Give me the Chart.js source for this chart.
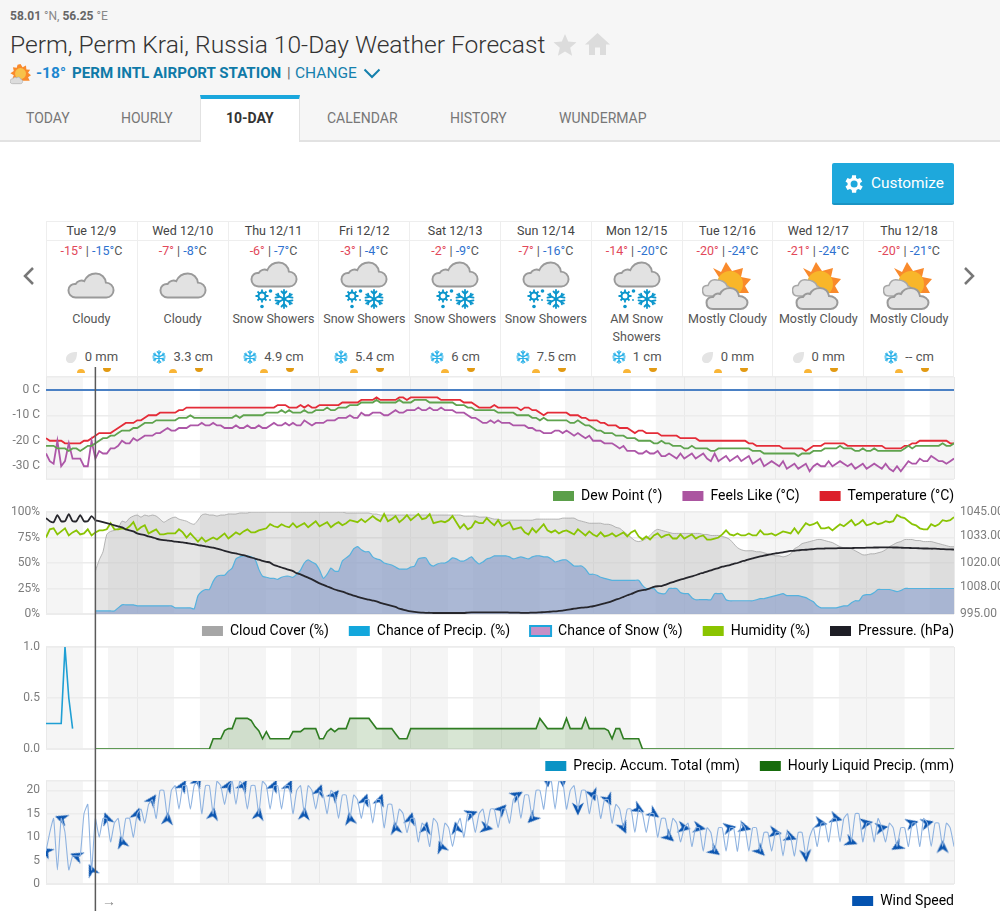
<!DOCTYPE html>
<html lang="en">
<head>
<meta charset="UTF-8">
<title>Perm, Perm Krai, Russia 10-Day Weather Forecast</title>
<script src="https://cdn.jsdelivr.net/npm/chart.js"></script>
<style>
    html, body { margin: 0; padding: 0; background: #fff; }
    #page { position: relative; width: 1000px; height: 911px; overflow: hidden; font-family: Roboto, sans-serif; color: #555; }
    #page > * { position: absolute; }
    #head { left: 0; top: 0; width: 1000px; height: 140px; background: #f6f6f6; border-bottom: 2px solid #e2e2e2; }
    #coords { left: 10px; top: 9px; font-size: 12px; color: #888; white-space: nowrap; }
    #coords b { color: #666; font-weight: 700; }
    h1 { left: 10px; top: 29px; margin: 0; font-size: 24.6px; line-height: 32px; font-weight: 300; color: #333; white-space: nowrap; }
    #now { left: 36px; top: 63px; font-size: 15.500px; line-height: 20px; color: #1d87d0; font-weight: 700; white-space: nowrap; }
    #station { left: 72px; top: 63px; font-size: 15.100px; line-height: 20px; font-weight: 700; color: #0f7aa8; white-space: nowrap; }
    #sep { left: 287px; top: 63px; font-size: 15px; line-height: 20px; color: #666; }
    #change { left: 295px; top: 63px; font-size: 15.500px; line-height: 20px; color: #1580ad; white-space: nowrap; }
    .tab { top: 110px; font-size: 14px; line-height: 16px; color: #777; white-space: nowrap; }
    #activeTab { left: 200px; top: 95px; width: 100px; height: 47px; background: #fff; border-top: 4px solid #1aa7dd; border-left: 1px solid #e2e2e2; border-right: 1px solid #e2e2e2; box-sizing: border-box; }
    #customize { left: 832px; top: 163px; width: 122px; height: 42px; background: #1ea8dc; border-bottom: 2px solid #1a94c4; box-sizing: border-box; border-radius: 2px; color: #fff; font-size: 15.400px; line-height: 40px; padding-left: 39px; }
    #forecast { left: 46px; top: 221px; width: 908px; height: 156px; border: 1px solid #eee; border-width: 1px 1px 0 1px; box-sizing: border-box; }
    .day { position: absolute; top: 0; width: 90.8px; height: 156px; border-left: 1px solid #eee; box-sizing: border-box; text-align: center; font-size: 12.5px; color: #555; }
    .day:first-child { border-left: 0; }
    .day .name { height: 18px; line-height: 18px; border-bottom: 1px solid #eee; color: #444; }
    .day .temps { margin-top: 1px; line-height: 18px; color: #555; white-space: nowrap; }
    .hi { color: #e2485a; } .lo { color: #2f72cf; }
    .day svg { position: absolute; overflow: visible; }
    .day .cond { position: absolute; left: -2px; right: -2px; top: 88px; line-height: 18px; }
    .day .total { position: absolute; left: 0; right: 0; top: 126px; line-height: 18px; font-size: 13px; display: flex; justify-content: center; align-items: center; gap: 7px; }
    .day .total svg { position: static; }
    .rise, .set { position: absolute; top: 147px; width: 8px; height: 4px; background: #f9b537; border-radius: 4px 4px 0 0; }
    .set { top: 146px; background: #e29a13; border-radius: 0 0 4px 4px; height: 4px; }
    .rise { left: 31px; } .set { left: 57px; }
    canvas { position: absolute; left: 0; }
    #c1 { top: 367px; } #c2 { top: 504px; } #c3 { top: 639px; } #c4 { top: 773px; }
    #windKey { left: 102px; top: 893px; font-size: 14px; line-height: 16px; color: #888; }
</style>
</head>
<body>
<div id="page">
    <svg width="0" height="0" style="position:absolute">
        <defs>
            <symbol id="cloud" viewBox="0 0 50 28">
                <path d="M9 26.500C4 26.500 1.500 22.500 1.500 19C1.500 15 5 12 9 12.500C11 9 15 8 18 9.500C20.500 4 25 1.500 30 1.500C36 1.500 40 6 40.500 11C45 11 48.500 14.500 48.500 19C48.500 23 45 26.500 41 26.500Z" fill="#e2e2e2" stroke="#9a9a9a" stroke-width="2"/>
            </symbol>
            <symbol id="flake" viewBox="0 0 20 20">
                <g stroke="currentColor" stroke-width="1.800" fill="none" stroke-linecap="round">
                    <path d="M10 1V19M2.200 5.500L17.800 14.500M2.200 14.500L17.800 5.500"/>
                    <path d="M7.500 2.500L10 5L12.500 2.500M7.500 17.500L10 15L12.500 17.500M1.500 8.700L4.800 8L4.100 4.600M18.500 11.300L15.200 12L15.900 15.400M1.500 11.300L4.800 12L4.100 15.400M18.500 8.700L15.200 8L15.900 4.600"/>
                </g>
            </symbol>
            <symbol id="sunflake" viewBox="0 0 24 20">
                <g fill="#0b96cc" stroke="#0b96cc">
                    <circle cx="7" cy="7" r="3.500" fill="none" stroke-width="2"/>
                    <path d="M7 0.500V13.500M0.500 7H13.500M2.500 2.500L11.500 11.500M2.500 11.500L11.500 2.500" stroke-width="1.800" stroke-dasharray="3 7"/>
                    <circle cx="15.500" cy="2" r="1.800" stroke="none"/>
                    <circle cx="7" cy="17.500" r="1.800" stroke="none"/>
                    <circle cx="15" cy="11" r="0.900" stroke="none"/>
                </g>
            </symbol>
            <symbol id="drop" viewBox="0 0 14 14">
                <path d="M13 1C7 1 1 3 1 8.500C1 11.500 3.500 13 6 13C10.500 13 13 8 13 1Z" fill="#e4e4e4"/>
            </symbol>
            <symbol id="partly" viewBox="0 0 50 48">
                <path d="M11 6L19 10L24 0L30 9L41 6L39 15L49 17L43 24L47 31H27Z" fill="#f98a2c"/>
                <circle cx="28" cy="22" r="13" fill="#f8b62a"/>
                <path d="M6 34C2 34 0.500 31 0.500 28C0.500 25 3 23 6 23.500C7.500 19 11 17 15 18C19 18 24 20 25 24C28 24 29 28 29 34Z" fill="#e2e2e2" stroke="#a8a8a8" stroke-width="1.500"/>
                <path d="M11 47C6.500 47 4.500 44 4.500 40.500C4.500 37 7.500 34.500 11 35C12.500 32 15.500 31 18 32C20 28 24 26 28 26C33 26 36.500 29.500 37 34C41.500 34 45.500 37 45.500 40.500C45.500 44 42.500 47 38.500 47Z" fill="#e2e2e2" stroke="#9a9a9a" stroke-width="2"/>
            </symbol>
        </defs>
    </svg>

    <div id="head"></div>
    <div id="coords"><b>58.01</b> °N, <b>56.25</b> °E</div>
    <h1>Perm, Perm Krai, Russia 10-Day Weather Forecast</h1>
    <svg style="left:553px;top:33px" width="24" height="24" viewBox="0 0 24 24"><path d="M12 1L15.200 8.600L23.500 9.300L17.200 14.700L19.100 22.800L12 18.500L4.900 22.800L6.800 14.700L0.500 9.300L8.800 8.600Z" fill="#dcdcdc"/></svg>
    <svg style="left:585px;top:33px" width="25" height="22" viewBox="0 0 25 22"><path d="M12.500 0L25 11.500H21V22H15V14.500H10V22H4V11.500H0Z" fill="#dcdcdc"/></svg>
    <svg style="left:10px;top:63px" width="21" height="22" viewBox="0 0 50 48"><path d="M25 0L30 8L38 4L39 13L48 14L43 21L50 27L43 32L47 40H20L6 34L9 27L1 22L9 17L7 8L16 9L18 2Z" fill="#f98a2c"/><circle cx="25" cy="23" r="13" fill="#f8c24a"/><path d="M6 47C2 47 0 44 0 41C0 38 3 35 6 36C8 32 13 31 16 33C19 30 24 31 25 36C28 36 30 39 30 42C30 45 28 47 25 47Z" fill="#dcdcdc" stroke="#aaa" stroke-width="1.500"/></svg>
    <div id="now">-18°</div>
    <div id="station">PERM INTL AIRPORT STATION</div>
    <div id="sep">|</div>
    <div id="change">CHANGE</div>
    <svg style="left:363px;top:68px" width="18" height="11" viewBox="0 0 18 11"><path d="M1.500 1.500L9 9L16.500 1.500" fill="none" stroke="#1580ad" stroke-width="2"/></svg>

    <div id="activeTab"></div>
    <div class="tab" style="left:26px">TODAY</div>
    <div class="tab" style="left:121px">HOURLY</div>
    <div class="tab" style="left:226px;color:#333;font-weight:700">10-DAY</div>
    <div class="tab" style="left:327px">CALENDAR</div>
    <div class="tab" style="left:450px">HISTORY</div>
    <div class="tab" style="left:559px">WUNDERMAP</div>

    <div id="customize">Customize</div>
    <svg style="left:842px;top:172px" width="24" height="24" viewBox="0 0 24 24"><path fill="#fff" d="M19.400 13a7.500 7.500 0 0 0 0-2l2.100-1.600-2-3.500-2.500 1a7.600 7.600 0 0 0-1.700-1L15.400 3.300h-4l-.4 2.600a7.600 7.600 0 0 0-1.700 1l-2.500-1-2 3.500L6.900 11a7.500 7.500 0 0 0 0 2l-2.100 1.600 2 3.500 2.500-1a7.600 7.600 0 0 0 1.700 1l.4 2.600h4l.4-2.600a7.600 7.600 0 0 0 1.700-1l2.500 1 2-3.500ZM13.400 15.500a3.500 3.500 0 1 1 0-7 3.500 3.500 0 0 1 0 7Z" transform="translate(-1.300 0)"/></svg>

    <svg style="left:22px;top:266px" width="14" height="20" viewBox="0 0 14 20"><path d="M11 2L3 10L11 18" fill="none" stroke="#777" stroke-width="2.500"/></svg>
    <svg style="left:962px;top:266px" width="14" height="20" viewBox="0 0 14 20"><path d="M3 2L11 10L3 18" fill="none" stroke="#777" stroke-width="2.500"/></svg>

    <div id="forecast"></div>
    <canvas id="c1" width="1000" height="156"></canvas>
    <canvas id="c2" width="1000" height="154"></canvas>
    <canvas id="c3" width="1000" height="154"></canvas>
    <canvas id="c4" width="1000" height="155"></canvas>
    <div id="windKey">→</div>
</div>

<script>
    // forecast strip
    const dayNames = ['Tue 12/9', 'Wed 12/10', 'Thu 12/11', 'Fri 12/12', 'Sat 12/13', 'Sun 12/14', 'Mon 12/15', 'Tue 12/16', 'Wed 12/17', 'Thu 12/18'];
    const highs = [-15, -7, -6, -3, -2, -7, -14, -20, -21, -20];
    const lows = [-15, -8, -7, -4, -9, -16, -20, -24, -24, -21];
    const conditions = ['Cloudy', 'Cloudy', 'Snow Showers', 'Snow Showers', 'Snow Showers', 'Snow Showers', 'AM Snow Showers', 'Mostly Cloudy', 'Mostly Cloudy', 'Mostly Cloudy'];
    const totals = ['0 mm', '3.3 cm', '4.9 cm', '5.4 cm', '6 cm', '7.5 cm', '1 cm', '0 mm', '0 mm', '-- cm'];

    // hourly series, one row per day, starting at midnight on the first day
    const temperature = [
        -19, -20, -20, -20, -20, -21, -21, -21, -21, -21, -20, -20, -19, -18, -17, -17, -17, -17, -16, -15, -14, -13, -13, -13,
        -12, -12, -11, -10, -10, -10, -9, -9, -9, -9, -9, -8, -8, -7, -7, -7, -7, -7, -7, -7, -7, -7, -7, -7,
        -7, -7, -7, -7, -7, -7, -7, -7, -7, -7, -7, -7, -7, -6, -6, -6, -7, -7, -7, -6, -7, -6, -7, -7,
        -6, -6, -6, -6, -6, -6, -5, -5, -5, -5, -5, -4, -4, -4, -4, -3, -4, -4, -4, -4, -4, -3, -3, -4,
        -3, -3, -3, -3, -3, -3, -3, -3, -4, -4, -4, -4, -4, -4, -5, -5, -5, -6, -7, -7, -7, -7, -6, -7,
        -7, -7, -7, -7, -7, -8, -7, -7, -8, -8, -9, -10, -9, -9, -9, -9, -9, -9, -10, -10, -10, -11, -11, -12,
        -12, -12, -13, -13, -14, -14, -14, -15, -15, -15, -16, -17, -16, -16, -17, -17, -17, -17, -18, -18, -18, -18, -18, -19,
        -19, -19, -19, -19, -20, -20, -20, -20, -20, -20, -20, -20, -20, -20, -20, -20, -20, -21, -21, -22, -22, -22, -22, -22,
        -22, -22, -23, -23, -23, -23, -23, -23, -24, -23, -22, -22, -22, -21, -21, -21, -21, -21, -21, -22, -22, -22, -22, -22,
        -22, -22, -22, -22, -22, -23, -23, -23, -23, -23, -22, -22, -21, -21, -20, -20, -20, -20, -20, -20, -20, -20, -21, -21
    ];
    const dewPoint = [
        -22, -22, -22, -23, -23, -23, -24, -23, -23, -24, -23, -22, -22, -21, -20, -19, -19, -18, -18, -17, -16, -16, -16, -15,
        -15, -14, -13, -13, -13, -12, -12, -12, -12, -12, -12, -11, -11, -11, -10, -11, -11, -11, -11, -11, -11, -11, -11, -11,
        -11, -11, -10, -11, -10, -10, -10, -10, -10, -10, -9, -9, -9, -9, -8, -9, -8, -9, -9, -9, -8, -9, -9, -8,
        -8, -8, -7, -8, -8, -7, -7, -7, -6, -6, -6, -5, -5, -5, -5, -4, -5, -5, -5, -5, -5, -4, -5, -5,
        -5, -4, -4, -4, -4, -5, -5, -5, -5, -5, -5, -5, -6, -6, -6, -7, -7, -8, -8, -8, -8, -8, -8, -9,
        -9, -9, -9, -9, -10, -10, -10, -10, -11, -11, -12, -11, -12, -12, -12, -12, -12, -12, -13, -13, -12, -13, -14, -14,
        -15, -16, -16, -17, -17, -17, -18, -18, -18, -19, -19, -19, -20, -20, -20, -20, -21, -21, -20, -21, -21, -22, -22, -22,
        -23, -23, -22, -23, -23, -23, -23, -24, -24, -23, -23, -23, -23, -23, -23, -23, -23, -23, -24, -24, -24, -25, -25, -25,
        -25, -25, -25, -25, -25, -25, -26, -25, -25, -25, -24, -24, -24, -23, -23, -23, -23, -22, -23, -23, -23, -24, -24, -23,
        -24, -24, -23, -24, -24, -24, -24, -24, -24, -24, -23, -22, -23, -22, -22, -22, -22, -22, -22, -22, -21, -22, -22, -21
    ];
    const feelsLike = [
        -25, -28, -29, -20, -30, -28, -21, -27, -27, -27, -30, -30, -20, -27, -24, -25, -25, -23, -23, -22, -20, -21, -21, -19,
        -20, -19, -18, -18, -18, -17, -17, -16, -15, -16, -16, -15, -15, -15, -14, -14, -14, -13, -14, -14, -13, -14, -14, -15,
        -15, -15, -14, -15, -15, -14, -15, -15, -14, -15, -15, -14, -13, -14, -14, -13, -14, -13, -14, -14, -12, -13, -14, -13,
        -13, -13, -12, -12, -12, -11, -11, -11, -10, -11, -11, -9, -10, -10, -9, -9, -9, -10, -10, -9, -8, -9, -9, -8,
        -8, -8, -7, -8, -8, -7, -8, -8, -7, -8, -8, -8, -9, -9, -9, -10, -11, -11, -12, -13, -13, -12, -13, -12,
        -13, -13, -13, -14, -14, -14, -14, -15, -15, -16, -16, -17, -17, -17, -16, -16, -17, -16, -17, -18, -17, -18, -19, -18,
        -20, -20, -20, -21, -21, -21, -22, -23, -22, -24, -24, -24, -25, -25, -24, -25, -25, -24, -26, -26, -25, -26, -27, -25,
        -27, -26, -25, -27, -26, -25, -27, -28, -25, -28, -27, -26, -28, -27, -26, -28, -27, -26, -29, -28, -27, -30, -29, -28,
        -29, -30, -28, -31, -30, -29, -31, -30, -29, -32, -30, -29, -30, -30, -28, -30, -29, -28, -29, -30, -29, -31, -30, -29,
        -31, -30, -29, -30, -31, -29, -31, -32, -30, -32, -30, -28, -29, -29, -27, -28, -28, -26, -27, -28, -28, -29, -28, -27
    ];
    const cloudCover = [
        null, null, null, null, null, null, null, null, null, null, null, null, null, 42, 53, 61, 78, 81, 82, 84, 91, 90, 94, 96,
        97, 95, 97, 96, 97, 96, 93, 90, 92, 94, 95, 93, 92, 91, 89, 88, 92, 97, 98, 97, 97, 96, 97, 97,
        98, 98, 98, 99, 99, 99, 100, 100, 100, 100, 100, 100, 100, 100, 100, 100, 100, 100, 100, 100, 100, 100, 100, 100,
        100, 100, 100, 100, 100, 100, 100, 99, 99, 99, 99, 99, 99, 99, 98, 98, 97, 97, 97, 97, 97, 97, 97, 97,
        97, 97, 97, 97, 97, 97, 97, 97, 97, 97, 97, 97, 97, 97, 96, 96, 96, 96, 95, 95, 95, 94, 93, 93,
        92, 92, 92, 92, 92, 92, 92, 92, 92, 93, 93, 93, 93, 93, 93, 93, 94, 94, 94, 94, 92, 91, 90, 89,
        89, 89, 89, 88, 88, 87, 85, 84, 81, 78, 75, 72, 71, 72, 74, 77, 81, 83, 82, 81, 80, 79, 79, 79,
        79, 79, 79, 79, 79, 78, 78, 77, 77, 77, 76, 75, 73, 69, 65, 63, 62, 62, 62, 61, 61, 60, 59, 58,
        57, 57, 56, 57, 59, 64, 66, 69, 70, 71, 72, 73, 73, 72, 71, 70, 68, 66, 65, 65, 64, 62, 60, 58,
        58, 59, 59, 60, 61, 63, 66, 68, 70, 71, 73, 73, 73, 72, 72, 71, 71, 71, 70, 69, 68, 67, 66, 66
    ];
    const chancePrecip = [
        null, null, null, null, null, null, null, null, null, null, null, null, null, 3, 3, 3, 3, 3, 3, 6, 9, 9, 9, 9,
        8, 8, 8, 8, 8, 8, 8, 8, 8, 8, 6, 6, 6, 6, 6, 5, 18, 22, 24, 24, 32, 37, 38, 38,
        42, 45, 54, 56, 57, 57, 56, 54, 44, 37, 36, 35, 35, 34, 36, 37, 37, 36, 39, 43, 50, 53, 51, 49,
        43, 35, 39, 45, 42, 42, 52, 55, 58, 64, 66, 63, 61, 61, 56, 54, 53, 50, 49, 48, 46, 44, 44, 44,
        46, 47, 54, 55, 55, 49, 47, 49, 50, 50, 52, 55, 54, 52, 52, 54, 56, 52, 49, 51, 54, 55, 57, 57,
        57, 57, 56, 54, 55, 56, 55, 54, 56, 57, 57, 56, 56, 54, 51, 52, 53, 53, 50, 47, 47, 47, 44, 39,
        39, 38, 36, 35, 34, 33, 33, 33, 33, 33, 33, 33, 33, 28, 25, 25, 25, 21, 20, 20, 25, 25, 25, 21,
        20, 20, 16, 14, 14, 14, 14, 14, 20, 20, 20, 14, 13, 13, 13, 13, 13, 13, 13, 14, 15, 15, 16, 17,
        18, 19, 20, 18, 18, 18, 18, 17, 16, 14, 12, 8, 6, 6, 6, 6, 6, 7, 8, 8, 11, 13, 13, 18,
        19, 19, 21, 24, 24, 24, 24, 23, 22, 23, 25, 25, 25, 25, 25, 25, 25, 25, 25, 25, 25, 25, 25, 25
    ];
    const humidity = [
        75, 83, 84, 78, 81, 84, 77, 80, 82, 78, 79, 83, 77, 80, 82, 82, 83, 89, 83, 83, 84, 83, 86, 90,
        82, 85, 87, 79, 81, 83, 78, 78, 79, 79, 79, 83, 80, 75, 79, 75, 71, 75, 71, 73, 75, 73, 76, 79,
        74, 77, 80, 78, 81, 83, 80, 80, 82, 83, 84, 88, 86, 85, 88, 86, 85, 89, 85, 87, 89, 85, 88, 91,
        86, 88, 90, 85, 88, 90, 87, 89, 92, 91, 90, 93, 90, 93, 96, 93, 91, 98, 91, 93, 96, 90, 93, 97,
        92, 95, 98, 93, 94, 98, 89, 90, 91, 90, 92, 96, 90, 84, 88, 83, 85, 91, 89, 89, 94, 90, 87, 92,
        86, 88, 90, 83, 84, 85, 80, 78, 84, 80, 84, 88, 82, 80, 82, 79, 81, 82, 80, 78, 83, 80, 77, 81,
        78, 76, 80, 76, 77, 79, 76, 78, 80, 76, 80, 82, 76, 73, 76, 73, 77, 79, 75, 77, 78, 74, 74, 78,
        74, 76, 78, 74, 76, 77, 73, 73, 74, 75, 78, 82, 78, 77, 79, 77, 77, 79, 77, 77, 82, 78, 78, 79,
        77, 79, 81, 80, 79, 84, 79, 84, 89, 87, 88, 90, 84, 84, 85, 82, 85, 88, 86, 89, 92, 87, 89, 92,
        87, 88, 90, 88, 89, 91, 90, 91, 97, 95, 94, 91, 88, 87, 84, 83, 83, 88, 86, 88, 92, 91, 92, 95
    ];
    const pressure = [
        1042, 1040.5, 1040, 1043.5, 1040.5, 1040.5, 1044, 1040.5, 1040.5, 1043.5, 1040.5, 1040.5, 1043, 1041, 1040.5, 1040, 1039.5, 1039, 1038.5, 1038, 1037.5, 1036.5, 1036, 1035.5,
        1034.5, 1034, 1033.7, 1033, 1032.6, 1032, 1031.5, 1031.2, 1031, 1030.8, 1030.5, 1030.3, 1030.1, 1029.8, 1029.5, 1029.2, 1028.8, 1028.5, 1028.2, 1027.8, 1027.5, 1027, 1026.5, 1026,
        1025.5, 1025, 1024.7, 1024.2, 1023.8, 1023.3, 1022.7, 1022.2, 1021.6, 1021.1, 1020.6, 1020.2, 1019, 1018.4, 1017.8, 1017.2, 1016.6, 1016, 1015, 1014.4, 1013.6, 1012.8, 1012, 1011,
        1010, 1009.3, 1008.5, 1007.8, 1007, 1006.5, 1006, 1005.3, 1004.6, 1004, 1003.4, 1002.9, 1002.4, 1002, 1001.6, 1001.2, 1000.5, 1000, 999.5, 999, 998.5, 997.6, 997.2, 996.7,
        996.3, 996, 995.8, 995.7, 995.6, 995.6, 995.5, 995.5, 995.5, 995.5, 995.5, 995.5, 995.5, 995.5, 995.5, 995.7, 995.8, 995.8, 995.8, 995.8, 995.8, 995.8, 995.8, 995.8,
        995.8, 995.8, 995.7, 995.7, 995.7, 995.6, 995.6, 995.6, 995.7, 995.7, 995.8, 995.9, 996, 996.2, 996.3, 996.5, 996.7, 997, 997.3, 997.6, 997.9, 998.1, 998.2, 998.5,
        998.8, 999.2, 999.7, 1000.2, 1000.7, 1001.3, 1002, 1002.6, 1003.4, 1004.2, 1004.8, 1005.6, 1006.3, 1006.7, 1007, 1007.6, 1008.3, 1008.6, 1008.7, 1009.3, 1010, 1010.6, 1011.2, 1011.9,
        1012.3, 1013, 1013.5, 1014, 1014.7, 1015.2, 1015.8, 1016.4, 1017, 1017.5, 1018.2, 1018.6, 1019, 1019.6, 1020, 1020.7, 1021.2, 1021.8, 1022.3, 1022.8, 1023.2, 1023.6, 1024, 1024.4,
        1024.7, 1025, 1025.2, 1025.6, 1025.9, 1026, 1026.2, 1026.4, 1026.5, 1026.7, 1026.8, 1027, 1027, 1027.1, 1027.2, 1027.2, 1027.2, 1027.3, 1027.3, 1027.3, 1027.3, 1027.4, 1027.4, 1027.4,
        1027.5, 1027.5, 1027.6, 1027.6, 1027.7, 1027.7, 1027.7, 1027.6, 1027.6, 1027.5, 1027.4, 1027.4, 1027.3, 1027.3, 1027.2, 1027.1, 1027.1, 1027, 1027, 1026.9, 1026.8, 1026.7, 1026.7, 1026.6
    ];
    const precipAccum = [0.25, 0.25, 0.25, 0.25, 0.25, 1, 0.5, 0.2];
    const liquidPrecip = [
        null, null, null, null, null, null, null, null, null, null, null, null, null, 0, 0, 0, 0, 0, 0, 0, 0, 0, 0, 0,
        0, 0, 0, 0, 0, 0, 0, 0, 0, 0, 0, 0, 0, 0, 0, 0, 0, 0, 0, 0, 0.1, 0.1, 0.1, 0.18,
        0.2, 0.2, 0.3, 0.3, 0.3, 0.3, 0.28, 0.22, 0.18, 0.1, 0.17, 0.1, 0.1, 0.1, 0.1, 0.1, 0.1, 0.17, 0.17, 0.17, 0.2, 0.2, 0.2, 0.2,
        0.1, 0.1, 0.17, 0.2, 0.17, 0.2, 0.2, 0.2, 0.3, 0.3, 0.3, 0.3, 0.3, 0.3, 0.25, 0.2, 0.2, 0.2, 0.2, 0.2, 0.15, 0.1, 0.1, 0.1,
        0.2, 0.2, 0.2, 0.2, 0.2, 0.2, 0.2, 0.2, 0.2, 0.2, 0.2, 0.2, 0.2, 0.2, 0.2, 0.2, 0.2, 0.2, 0.2, 0.2, 0.2, 0.2, 0.2, 0.2,
        0.2, 0.2, 0.2, 0.2, 0.2, 0.2, 0.2, 0.2, 0.2, 0.2, 0.3, 0.25, 0.2, 0.2, 0.2, 0.2, 0.2, 0.3, 0.2, 0.2, 0.2, 0.2, 0.3, 0.2,
        0.2, 0.2, 0.2, 0.2, 0.18, 0.1, 0.2, 0.2, 0.1, 0.1, 0.1, 0.1, 0.1, 0, 0, 0, 0, 0, 0, 0, 0, 0, 0, 0,
        0, 0, 0, 0, 0, 0, 0, 0, 0, 0, 0, 0, 0, 0, 0, 0, 0, 0, 0, 0, 0, 0, 0, 0,
        0, 0, 0, 0, 0, 0, 0, 0, 0, 0, 0, 0, 0, 0, 0, 0, 0, 0, 0, 0, 0, 0, 0, 0,
        0, 0, 0, 0, 0, 0, 0, 0, 0, 0, 0, 0, 0, 0, 0, 0, 0, 0, 0, 0, 0, 0, 0, 0
    ];
    const windSpeed = [
        7, 11, 14, 3, 14, 11, 3, 6, 6, 6, 15, 17, 3, 14, 10, 14, 14, 9, 13, 14, 9, 14, 14, 10,
        15, 16, 13, 17, 18, 14, 20, 20, 14, 20, 21, 16, 21, 21, 16, 21, 22, 15, 21, 21, 15, 22, 21, 17,
        21, 22, 17, 22, 21, 16, 21, 21, 15, 22, 21, 16, 21, 21, 16, 21, 21, 15, 20, 21, 15, 21, 20, 16,
        20, 19, 15, 20, 19, 14, 19, 19, 14, 19, 18, 14, 18, 18, 13, 18, 18, 12, 17, 17, 12, 16, 15, 11,
        14, 14, 9, 13, 12, 8, 14, 13, 8, 13, 12, 8, 12, 14, 10, 15, 15, 11, 15, 16, 12, 16, 16, 12,
        16, 16, 13, 18, 19, 14, 19, 19, 14, 20, 20, 16, 22, 22, 16, 22, 22, 16, 20, 21, 16, 20, 20, 15,
        19, 19, 14, 18, 18, 13, 17, 16, 12, 16, 16, 11, 16, 15, 11, 15, 15, 10, 14, 14, 10, 14, 13, 9,
        12, 13, 8, 12, 12, 7, 12, 11, 7, 12, 12, 7, 12, 12, 7, 13, 12, 7, 12, 12, 7, 11, 11, 7,
        11, 11, 6, 11, 10, 6, 11, 11, 6, 10, 12, 8, 13, 13, 9, 14, 14, 9, 14, 15, 9, 15, 15, 9,
        13, 13, 9, 14, 12, 9, 13, 12, 8, 12, 12, 8, 13, 13, 8, 14, 13, 8, 13, 13, 8, 13, 12, 8
    ];
    // heading of the wind arrows, one every four hours, degrees clockwise from north
    const windHeading = [
        300, 290, 290, 335, 340, 345, 20, 35, 5, 30, 30, 10, 30, 30, 10, 25, 25, 5, 20, 40,
        350, 20, 20, 350, 15, 10, 340, 350, 70, 100, 45, 60, 225, 175, 175, 180, 160, 155, 155, 120,
        125, 130, 100, 100, 125, 80, 105, 135, 100, 110, 175, 100, 105, 110, 80, 80, 240, 75, 75, 0
    ];

    // daylight stretches drawn white behind the plots, in hours from the first midnight
    const sunrise = [9.7, 33.7, 57.9, 81.8, 105.8, 130, 153.9, 177.9, 202, 226];
    const sunset = [16.3, 40.5, 64.5, 88.4, 112.4, 136.6, 160.5, 184.7, 208.7, 232.6];
    const nowHour = 13;

    const tempTicks = [0, -10, -20, -30];
    const percentTicks = [100, 75, 50, 25, 0];
    const pressureTicks = [1045, 1033, 1020, 1008, 995];
    const precipTicks = [1, 0.5, 0];
    const windTicks = [20, 15, 10, 5, 0];

    // build the strip above the plots
    const strip = document.getElementById('forecast');
    dayNames.forEach((name, i) => {
        const col = document.createElement('div');
        col.className = 'day';
        col.style.left = (i * 90.8 - 1) + 'px';
        const cond = conditions[i];
        let icon;
        if (cond === 'Cloudy') {
            icon = '<svg style="left:21px;top:50px" width="48" height="27"><use href="#cloud"/></svg>';
        } else if (cond === 'Mostly Cloudy') {
            icon = '<svg style="left:19px;top:40px" width="50" height="48"><use href="#partly"/></svg>';
        } else {
            icon = '<svg style="left:21px;top:39px" width="48" height="27"><use href="#cloud"/></svg>'
                + '<svg style="left:26px;top:67px" width="24" height="20"><use href="#sunflake"/></svg>'
                + '<svg style="left:45px;top:67px;color:#0b96cc" width="20" height="20"><use href="#flake"/></svg>';
        }
        const isRain = totals[i].endsWith('mm');
        const totalIcon = isRain
            ? '<svg width="13" height="13"><use href="#drop"/></svg>'
            : '<svg width="14" height="14" style="color:#2db2e8"><use href="#flake"/></svg>';
        col.innerHTML = '<div class="name">' + name + '</div>'
            + '<div class="temps"><span class="hi">' + highs[i] + '°</span> | <span class="lo">' + lows[i] + '°</span>C</div>'
            + icon
            + '<div class="cond">' + cond.replace('AM Snow Showers', 'AM Snow<br>Showers') + '</div>'
            + '<div class="total">' + totalIcon + '<span>' + totals[i] + '</span></div>'
            + '<div class="rise"></div><div class="set"></div>';
        strip.appendChild(col);
    });

    Chart.defaults.font.family = 'Roboto, sans-serif';
    Chart.defaults.font.size = 12;
    Chart.defaults.animation = false;

    const points = series => series.map((v, h) => ({ x: h, y: v }));

    // night shading and the panel frame go under the grid
    const nightBands = {
        id: 'nightBands',
        beforeDraw(chart) {
            const { ctx, chartArea: a, scales: { x } } = chart;
            ctx.save();
            ctx.fillStyle = '#f5f5f5';
            ctx.fillRect(a.left, a.top, a.width, a.height);
            ctx.fillStyle = '#fff';
            sunrise.forEach((start, i) => {
                const x0 = x.getPixelForValue(start);
                const x1 = x.getPixelForValue(sunset[i]);
                ctx.fillRect(x0, a.top, x1 - x0, a.height);
            });
            ctx.fillStyle = '#ececec';
            ctx.fillRect(a.left, a.top - 1, a.width, 1.5);
            ctx.fillRect(a.left, a.bottom - 0.5, a.width, 1.5);
            ctx.restore();
        }
    };

    // vertical marker for the current hour, runs the whole height of the stack
    const nowLine = {
        id: 'nowLine',
        afterDraw(chart, args, opts) {
            const { ctx, scales: { x } } = chart;
            const px = x.getPixelForValue(nowHour);
            ctx.save();
            ctx.strokeStyle = '#5a5a5a';
            ctx.lineWidth = 1.5;
            ctx.beginPath();
            ctx.moveTo(px, 0);
            ctx.lineTo(px, opts.height);
            ctx.stroke();
            ctx.restore();
        }
    };

    // pull the legend up under the plot and flush it with the right edge
    const legendFit = {
        id: 'legendFit',
        afterLayout(chart) {
            const legend = chart.legend;
            legend.top -= 10;
            legend.bottom -= 10;
            legend.right += 20;
        }
    };

    // fixed gutter width, and no extra room reserved for the outer tick labels
    function fitGutter(s) {
        s.width = 46;
        s.paddingTop = 0;
        s.paddingBottom = 0;
    }

    function leftAxis(ticks, min, max, format, zeroLine) {
        return {
            position: 'left', min, max,
            afterBuildTicks: s => { s.ticks = ticks.map(v => ({ value: v })); },
            afterFit: fitGutter,
            border: { display: false },
            grid: {
                drawTicks: false,
                color: c => (zeroLine && c.tick.value === 0) ? '#4a80c4' : '#ececec',
                lineWidth: c => (zeroLine && c.tick.value === 0) ? 2 : 1.5
            },
            ticks: { autoSkip: false, padding: 6, color: '#7d7d7d', callback: format }
        };
    }

    function makeChart(id, datasets, scales, lineHeight, rightPad) {
        return new Chart(document.getElementById(id), {
            type: 'line',
            data: { datasets },
            options: {
                responsive: false,
                layout: { padding: { top: id === 'c1' ? 10 : 8, right: rightPad } },
                elements: { point: { radius: 0 } },
                scales: Object.assign({
                    x: {
                        type: 'linear', min: 0, max: 239,
                        border: { display: false },
                        grid: { drawTicks: false, color: '#e9e9e9' },
                        ticks: { display: false, stepSize: 24, autoSkip: false }
                    }
                }, scales),
                plugins: {
                    tooltip: { enabled: false },
                    nowLine: { height: lineHeight },
                    legend: {
                        position: 'bottom',
                        align: 'end',
                        fullSize: false,
                        labels: {
                            boxWidth: 21, boxHeight: 10, padding: 20,
                            color: '#555', font: { size: 14 },
                            filter: item => item.text,
                            generateLabels: chart => chart.data.datasets.map((ds, i) => ({
                                text: ds.label,
                                fillStyle: ds.swatch,
                                strokeStyle: ds.swatchEdge || ds.swatch,
                                lineWidth: ds.swatchEdge ? 2 : 0,
                                datasetIndex: i,
                                hidden: false
                            }))
                        }
                    }
                }
            },
            plugins: [nightBands, nowLine, legendFit]
        });
    }

    makeChart('c1', [
        { label: 'Dew Point (°)', data: points(dewPoint), borderColor: '#5fa34e', borderWidth: 1.8, swatch: '#5b9f4a' },
        { label: 'Feels Like (°C)', data: points(feelsLike), borderColor: '#ad57a8', borderWidth: 1.8, swatch: '#ab55a0' },
        { label: 'Temperature (°C)', data: points(temperature), borderColor: '#e42c38', borderWidth: 1.8, swatch: '#dc1f2b' }
    ], {
        y: leftAxis(tempTicks, -35, 5, v => v + ' C', true)
    }, 137, 46);

    makeChart('c2', [
        { label: 'Cloud Cover (%)', data: points(cloudCover), yAxisID: 'y', order: 5, fill: 'origin', tension: 0.25, borderWidth: 1, borderColor: 'rgba(165,165,165,0.8)', backgroundColor: 'rgba(150,150,150,0.25)', swatch: '#a6a6a6' },
        { label: 'Chance of Precip. (%)', data: points(chancePrecip), yAxisID: 'y', order: 3, fill: false, tension: 0.2, borderWidth: 1.2, borderColor: '#55b2de', swatch: '#13a7dc' },
        { label: 'Chance of Snow (%)', data: points(chancePrecip), yAxisID: 'y', order: 4, fill: 'origin', tension: 0.2, borderWidth: 0, backgroundColor: 'rgba(140,160,205,0.65)', swatch: '#c690c6', swatchEdge: '#1da6dc' },
        { label: 'Humidity (%)', data: points(humidity), yAxisID: 'y', order: 2, borderWidth: 1.8, borderColor: '#8ac404', swatch: '#8ac400' },
        { label: 'Pressure. (hPa)', data: points(pressure), yAxisID: 'p', order: 1, tension: 0.2, borderWidth: 1.8, borderColor: '#26262c', swatch: '#1e1e26' }
    ], {
        y: leftAxis(percentTicks, 0, 100, v => v + '%'),
        p: {
            position: 'right', min: 995, max: 1045,
            afterBuildTicks: s => { s.ticks = pressureTicks.map(v => ({ value: v })); },
            afterFit: fitGutter,
            border: { display: false },
            grid: { display: false, drawTicks: false },
            ticks: { autoSkip: false, padding: 6, color: '#7d7d7d', callback: v => v.toFixed(2) }
        }
    }, 135, 0);

    makeChart('c3', [
        { label: 'Precip. Accum. Total (mm)', data: points(precipAccum), borderColor: '#1f9fd4', borderWidth: 1.6, swatch: '#0a93c5' },
        { label: 'Hourly Liquid Precip. (mm)', data: points(liquidPrecip), fill: 'origin', borderColor: '#2f7d22', borderWidth: 1.6, backgroundColor: 'rgba(60,130,40,0.2)', swatch: '#176c0c' }
    ], {
        y: leftAxis(precipTicks, 0, 1, v => v.toFixed(1))
    }, 134, 46);

    // arrow head used for the wind markers, tip pointing up
    const arrow = document.createElement('canvas');
    arrow.width = 14;
    arrow.height = 14;
    const g = arrow.getContext('2d');
    g.fillStyle = '#0b55b0';
    g.beginPath();
    g.moveTo(7, 0.5);
    g.lineTo(13, 13.5);
    g.lineTo(7, 9.5);
    g.lineTo(1, 13.5);
    g.closePath();
    g.fill();

    makeChart('c4', [
        { label: 'Wind Speed', data: points(windSpeed), tension: 0.15, borderColor: '#8fb3e0', borderWidth: 1.1, swatch: '#0453b0' },
        {
            label: '',
            data: windHeading.map((deg, i) => ({ x: i * 4, y: windSpeed[i * 4] })),
            showLine: false,
            pointRadius: 7,
            pointStyle: arrow,
            pointRotation: windHeading
        }
    ], {
        y: leftAxis(windTicks, 0, 22, v => v)
    }, 138, 46);
</script>
</body>
</html>
